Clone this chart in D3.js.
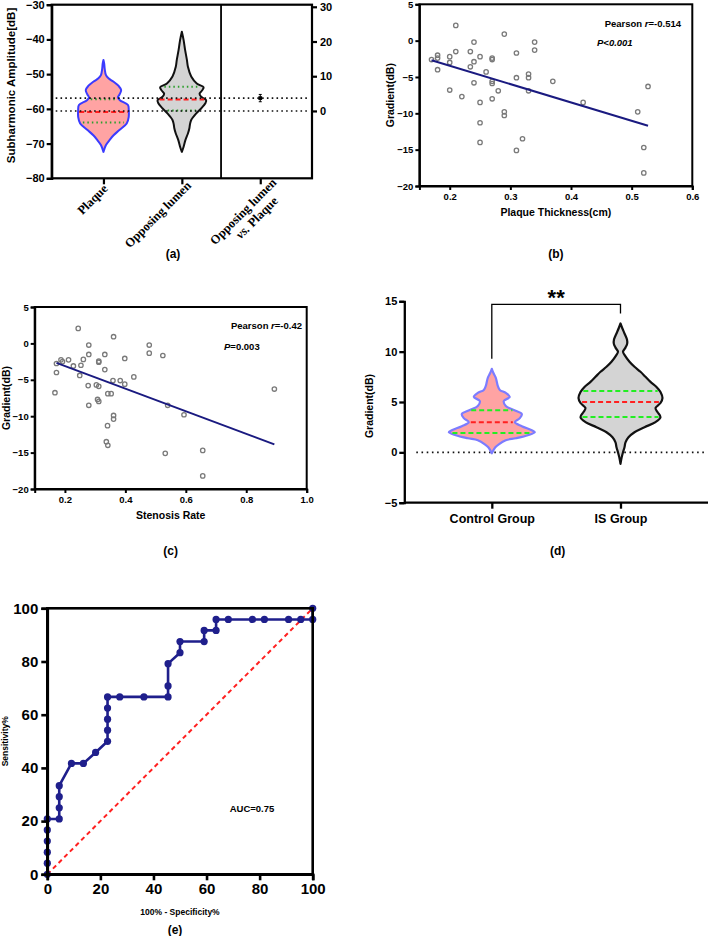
<!DOCTYPE html>
<html><head><meta charset="utf-8">
<script src="https://cdn.jsdelivr.net/npm/d3@7"></script>
<style>
body{margin:0;background:#fff;}
svg text{font-family:Arial,"Liberation Sans",sans-serif;font-weight:bold;fill:#000;}
</style></head><body>
<svg id="fig" width="709" height="936"></svg>
<script>
// ================= DATA =================
// Panel (a)
const aCategories = ["Plaque", "Opposing lumen", "Opposing lumen vs. Plaque"];
const aLeftTicks = [-80, -70, -60, -50, -40, -30];
const aRightTicks = [0, 10, 20, 30];
const plaqueV = [-45.9,-47,-48.5,-50.3,-51.2,-52.2,-53.4,-54.6,-55.8,-56.7,-57.5,-58.9,-60.4,-62.3,-64.2,-66.1,-67.6,-69,-70.4,-71.5,-72.4];
const plaqueD = [0,0.03,0.05,0.1,0.2,0.4,0.6,0.7,0.64,0.57,0.65,0.97,1.0,1.0,0.92,0.63,0.4,0.24,0.1,0.04,0];
const lumenV = [-37.8,-40.2,-43.1,-45.9,-47.9,-50.7,-52.7,-53.8,-54.8,-55.6,-56.5,-57.5,-58.4,-59.9,-61.3,-63.2,-64.5,-65.5,-67.1,-69,-70.9,-72.4];
const lumenD = [0,0.07,0.13,0.2,0.24,0.37,0.59,0.86,0.79,0.7,0.76,0.96,0.93,0.76,0.57,0.37,0.32,0.3,0.24,0.14,0.07,0];
const plaqueMedian = -60.9, plaqueQuart = [-57.2, -63.9];
const lumenMedian = -57.3, lumenQuart = [-53.6, -60.5];
const plaqueMean = -60.6, lumenMean = -56.9;
const diffMean = 3.7, diffErr = 1.05;

// Panel (b)
const bX = [0.17,0.18,0.18,0.18,0.21,0.2,0.2,0.2,0.21,0.22,0.234,0.234,0.24,0.24,0.24,0.25,0.25,0.25,0.25,0.26,0.27,0.27,0.27,0.27,0.27,0.28,0.29,0.29,0.29,0.31,0.31,0.31,0.32,0.33,0.33,0.33,0.34,0.34,0.37,0.42,0.51,0.52,0.52,0.527];
const bY = [-2.6,-2.0,-2.4,-4.0,2.1,-2.2,-3.0,-6.8,-1.5,-7.7,-1.5,-3.6,-0.2,-2.9,-5.8,-2.2,-8.5,-11.3,-14.0,-4.3,-2.4,-2.6,-5.6,-5.9,-8.0,-6.9,0.9,-9.8,-10.3,-1.7,-5.1,-15.1,-13.5,-4.6,-5.1,-6.9,-0.2,-1.3,-5.6,-8.5,-9.8,-14.7,-18.2,-6.3];
const bFitX = [0.17, 0.527], bFitY = [-2.7, -11.7];
const bXTicks = [0.2, 0.3, 0.4, 0.5, 0.6];
const gradTicks = [-20, -15, -10, -5, 0, 5];

// Panel (c)
const cX = [0.244,0.361,0.279,0.479,0.479,0.524,0.332,0.279,0.398,0.212,0.261,0.187,0.192,0.172,0.172,0.167,0.228,0.253,0.312,0.312,0.332,0.249,0.428,0.359,0.383,0.398,0.277,0.304,0.312,0.342,0.353,0.308,0.312,0.279,0.54,0.594,0.361,0.361,0.341,0.337,0.342,0.893,0.532,0.656,0.656];
const cY = [2.06,0.92,-0.23,-0.23,-1.34,-1.66,-1.52,-1.52,-2.07,-2.26,-2.2,-2.26,-2.5,-2.76,-4.0,-6.77,-3.1,-3.0,-2.44,-2.58,-3.6,-4.4,-4.6,-5.1,-5.1,-5.6,-5.8,-5.7,-5.9,-6.9,-6.9,-7.7,-7.97,-8.5,-8.5,-9.8,-9.9,-10.4,-11.3,-13.5,-14.0,-6.27,-15.1,-14.7,-18.2];
const cFitX = [0.172, 0.893], cFitY = [-2.67, -13.87];
const cXTicks = [0.2, 0.4, 0.6, 0.8, 1.0];

// Panel (d)
const dCategories = ["Control Group", "IS Group"];
const dTicks = [-5, 0, 5, 10, 15];
const ctrlV = [8.3,7.9,7.4,7.0,6.6,6.2,5.9,5.5,5.1,4.6,4.2,3.8,3.4,3.0,2.6,2.2,2.0,1.7,1.4,1.2,0.8,0.5,-0.1];
const ctrlD = [0,1.5,4,5,6,8,14,18,12,14,22,30,28,23,30,40,43,36,24,14,7,3.5,0];
const isV = [12.8,12.4,11.8,11.2,10.8,10.4,10.0,9.6,9.0,8.5,8.0,7.5,7.0,6.5,6.0,5.4,4.9,4.4,4.0,3.5,3.0,2.5,2.0,1.5,1.0,0.5,0,-0.5,-1.15];
const isD = [0,1.5,4,6.5,6.7,5,2.5,4.5,9,14,20,25,30,36,40,42,40,35,37,40,35,24,14,8,5,4,2.5,1.2,0];
const ctrlMedian = 3.0, ctrlQuart = [4.17, 1.93];
const isMedian = 5.0, isQuart = [6.1, 3.5];
const bracketTop = 14.7, bracketLeftEnd = 9.3, bracketRightEnd = 13.8;

// Panel (e)
const rocX = [0,0,0,0,0,0,4.5,4.5,4.5,4.5,9.1,13.6,18.2,22.7,22.7,22.7,22.7,22.7,27.3,36.4,45.5,45.5,45.5,50,50,59.1,59.1,63.6,63.6,68.2,77.3,81.8,90.9,95.5,100,100];
const rocY = [0,4.2,8.3,12.5,16.7,20.8,20.8,25,29.2,33.3,41.7,41.7,45.8,50,54.2,58.3,62.5,66.7,66.7,66.7,66.7,70.8,79.2,83.3,87.5,87.5,91.7,91.7,95.8,95.8,95.8,95.8,95.8,95.8,95.8,100];
const eTicks = [0, 20, 40, 60, 80, 100];

// ================= DRAWING =================
const svg = d3.select("#fig");

function styleAxis(g, w, fs) {
  g.selectAll("path.domain").attr("stroke", "#000").attr("stroke-width", w);
  g.selectAll(".tick line").attr("stroke", "#000").attr("stroke-width", w);
  g.selectAll(".tick text").attr("font-size", fs).attr("font-weight", "bold")
    .attr("font-family", "Arial, 'Liberation Sans', sans-serif").attr("fill", "#000");
}
function halfAt(V, D, v) {
  for (let i = 0; i < V.length - 1; i++) {
    const a = V[i], b = V[i + 1];
    if ((v <= a && v >= b) || (v >= a && v <= b)) {
      const t = (v - a) / (b - a);
      return D[i] + t * (D[i + 1] - D[i]);
    }
  }
  return 0;
}
function violin(g, V, D, cx, y, wScale, fill, stroke, sw) {
  const pts = V.map((v, i) => ({ v, d: D[i] }));
  const area = d3.area().y(p => y(p.v)).x0(p => cx - wScale(p.d)).x1(p => cx + wScale(p.d))
    .curve(d3.curveCatmullRom.alpha(0.5));
  g.append("path").attr("d", area(pts)).attr("fill", fill).attr("stroke", stroke)
    .attr("stroke-width", sw).attr("stroke-linejoin", "round");
}
function hline(g, V, D, cx, y, wScale, val, color, dash, sw, inset) {
  const hw = wScale(halfAt(V, D, val)) - (inset || 0);
  g.append("line").attr("x1", cx - hw).attr("x2", cx + hw).attr("y1", y(val)).attr("y2", y(val))
    .attr("stroke", color).attr("stroke-width", sw).attr("stroke-dasharray", dash);
}

// ---------- Panel (a) ----------
(function () {
  const L = 51.7, R = 312, T = 4.7, B = 178.3;
  const y = d3.scaleLinear().domain([-80, -30]).range([B, T]);
  const yR = d3.scaleLinear().domain([-80 - plaqueMean, -30 - plaqueMean]).range([B, T]);
  const x = d3.scalePoint().domain(aCategories).range([L, R]).padding(0.66);
  const w = d3.scaleLinear().domain([0, 1]).range([0, 25.3]);
  const g = svg.append("g");

  violin(g, plaqueV, plaqueD, x(aCategories[0]), y, w, "#FFA3A3", "#3B3BFF", 2);
  violin(g, lumenV, lumenD, x(aCategories[1]), y, w, "#D4D4D4", "#111", 2);
  hline(g, plaqueV, plaqueD, x(aCategories[0]), y, w, plaqueMedian, "#FF2020", "5,3", 2, 1);
  plaqueQuart.forEach(q => hline(g, plaqueV, plaqueD, x(aCategories[0]), y, w, q, "#2E9E2E", "1.5,3", 2, 3));
  hline(g, lumenV, lumenD, x(aCategories[1]), y, w, lumenMedian, "#FF2020", "5,3", 2, 1);
  lumenQuart.forEach(q => hline(g, lumenV, lumenD, x(aCategories[1]), y, w, q, "#2E9E2E", "1.5,3", 2, 3));

  [lumenMean, plaqueMean].forEach(m => {
    g.append("line").attr("x1", L + 4).attr("x2", R - 3).attr("y1", y(m)).attr("y2", y(m))
      .attr("stroke", "#111").attr("stroke-width", 1.6).attr("stroke-dasharray", "1.6,3.2");
  });
  // difference point with error bar (right axis)
  const px = x(aCategories[2]);
  g.append("line").attr("x1", px).attr("x2", px).attr("y1", yR(diffMean + diffErr)).attr("y2", yR(diffMean - diffErr))
    .attr("stroke", "#000").attr("stroke-width", 1);
  [diffMean + diffErr, diffMean - diffErr].forEach(v => g.append("line").attr("x1", px - 1.5).attr("x2", px + 1.5)
    .attr("y1", yR(v)).attr("y2", yR(v)).attr("stroke", "#000").attr("stroke-width", 1));
  g.append("path").attr("d", d3.symbol(d3.symbolSquare, 14)()).attr("transform", `translate(${px},${yR(diffMean)})`).attr("fill", "#000");

  // frame
  g.append("rect").attr("x", L).attr("y", T).attr("width", R - L).attr("height", B - T)
    .attr("fill", "none").attr("stroke", "#000").attr("stroke-width", 2.2);
  const divX = (x(aCategories[1]) + x(aCategories[2])) / 2;
  g.append("line").attr("x1", divX).attr("x2", divX).attr("y1", T).attr("y2", B).attr("stroke", "#000").attr("stroke-width", 1.8);

  const ga = g.append("g").attr("transform", `translate(${L},0)`).call(d3.axisLeft(y).tickValues(aLeftTicks).tickSize(5).tickPadding(2));
  styleAxis(ga, 2.2, 11);
  const gr = g.append("g").attr("transform", `translate(${R},0)`).call(d3.axisRight(yR).tickValues(aRightTicks).tickSize(5).tickPadding(3));
  gr.select("path.domain").remove();
  styleAxis(gr, 2.2, 11);
  const gx = g.append("g").attr("transform", `translate(0,${B})`).call(d3.axisBottom(x).tickSize(6).tickFormat(""));
  gx.select("path.domain").remove();
  styleAxis(gx, 2.2, 11);

  const lab = g.append("g").attr("font-size", 12.5);
  const lx0 = x(aCategories[0]), lx1 = x(aCategories[1]), lx2 = x(aCategories[2]);
  lab.append("text").attr("transform", `translate(${lx0 + 5},${B + 11}) rotate(-45)`).attr("text-anchor", "end")
    .style("font-family", "'Liberation Serif','Times New Roman',serif").text("Plaque");
  lab.append("text").attr("transform", `translate(${lx1 + 10},${B + 8}) rotate(-45)`).attr("text-anchor", "end")
    .style("font-family", "'Liberation Serif','Times New Roman',serif").text("Opposing lumen");
  const t3 = lab.append("text").attr("transform", `translate(${lx2 + 17},${B + 5}) rotate(-45)`).attr("text-anchor", "end")
    .style("font-family", "'Liberation Serif','Times New Roman',serif");
  t3.append("tspan").attr("x", 0).attr("dy", 0).text("Opposing lumen");
  const ts = t3.append("tspan").attr("x", -12).attr("dy", 14);
  ts.append("tspan").attr("font-style", "italic").text("vs.");
  ts.append("tspan").text(" Plaque");

  g.append("text").attr("transform", `translate(15,${(T + B) / 2 - 6}) rotate(-90)`).attr("text-anchor", "middle")
    .attr("font-size", 11.5).text("Subharmonic Amplitude[dB]");
  g.append("text").attr("x", 173).attr("y", 258).attr("text-anchor", "middle").attr("font-size", 12).text("(a)");
})();

// ---------- Scatter panels ----------
function scatter(opt) {
  const { L, R, T, B, xd, yd, X, Y, fx, fy, xt, xlab, rlab, plab, tag, tagY, txtX, txtY1, txtY2 } = opt;
  const x = d3.scaleLinear().domain(xd).range([L, R]);
  const y = d3.scaleLinear().domain(yd).range([B, T]);
  const g = svg.append("g");
  g.selectAll("circle").data(X.map((v, i) => [v, Y[i]])).enter().append("circle")
    .attr("cx", d => x(d[0])).attr("cy", d => y(d[1])).attr("r", 2.2)
    .attr("fill", "none").attr("stroke", "#7a7a7a").attr("stroke-width", 1.3);
  g.append("line").attr("x1", x(fx[0])).attr("x2", x(fx[1])).attr("y1", y(fy[0])).attr("y2", y(fy[1]))
    .attr("stroke", "#1A1A80").attr("stroke-width", 2);
  g.append("rect").attr("x", L).attr("y", T).attr("width", R - L).attr("height", B - T)
    .attr("fill", "none").attr("stroke", "#000").attr("stroke-width", 2);
  const gy = g.append("g").attr("transform", `translate(${L},0)`).call(d3.axisLeft(y).tickValues(gradTicks).tickSize(4).tickPadding(2).tickFormat(d3.format("d")));
  styleAxis(gy, 2, 9.5);
  const gx = g.append("g").attr("transform", `translate(0,${B})`).call(d3.axisBottom(x).tickValues(xt).tickSize(4).tickPadding(3).tickFormat(d3.format(".1f")));
  styleAxis(gx, 2, 9.5);
  g.append("text").attr("x", (L + R) / 2).attr("y", B + 30).attr("text-anchor", "middle").attr("font-size", 10.5).text(xlab);
  g.append("text").attr("transform", `translate(${L - 25},${(T + B) / 2}) rotate(-90)`).attr("text-anchor", "middle").attr("font-size", 10.5).text("Gradient(dB)");
  const t1 = g.append("text").attr("x", txtX).attr("y", txtY1).attr("text-anchor", "end").attr("font-size", 9.5);
  t1.append("tspan").text("Pearson ");
  t1.append("tspan").attr("font-style", "italic").text("r");
  t1.append("tspan").text("=" + rlab);
  const t2 = g.append("text").attr("x", opt.pX).attr("y", txtY2).attr("font-size", 9.5);
  if (plab.italic) { t2.attr("font-style", "italic").text(plab.text); }
  else { t2.append("tspan").attr("font-style", "italic").text("P"); t2.append("tspan").text(plab.text); }
  g.append("text").attr("x", (L + R) / 2).attr("y", tagY).attr("text-anchor", "middle").attr("font-size", 12).text(tag);
}
scatter({ L: 419.4, R: 692.3, T: 4.3, B: 186, xd: [0.15, 0.6], yd: [-20, 5], X: bX, Y: bY, fx: bFitX, fy: bFitY,
  xt: bXTicks, xlab: "Plaque Thickness(cm)", rlab: "-0.514", plab: { italic: true, text: "P<0.001" },
  tag: "(b)", tagY: 258, txtX: 681, txtY1: 27, txtY2: 46, pX: 597 });
scatter({ L: 34.7, R: 306.7, T: 307, B: 489, xd: [0.1, 1.0], yd: [-20, 5], X: cX, Y: cY, fx: cFitX, fy: cFitY,
  xt: cXTicks, xlab: "Stenosis Rate", rlab: "-0.42", plab: { italic: false, text: "=0.003" },
  tag: "(c)", tagY: 555, txtX: 302, txtY1: 329, txtY2: 350, pX: 224 });

// ---------- Panel (d) ----------
(function () {
  const L = 404.3, R = 708, T = 301.3, B = 502.7;
  const y = d3.scaleLinear().domain([-5, 15]).range([B, T]);
  const x = d3.scalePoint().domain(dCategories).range([L, R]).padding(0.68);
  const w = d3.scaleLinear().domain([0, 1]).range([0, 1]);
  const g = svg.append("g");
  const c0 = x(dCategories[0]), c1 = x(dCategories[1]);
  g.append("line").attr("x1", L + 12).attr("x2", R - 3).attr("y1", y(0)).attr("y2", y(0))
    .attr("stroke", "#111").attr("stroke-width", 1.6).attr("stroke-dasharray", "1.6,3.6");
  violin(g, ctrlV, ctrlD, c0, y, w, "#FFA3A3", "#7C7CFF", 2.2);
  violin(g, isV, isD, c1, y, w, "#D4D4D4", "#111", 2.2);
  hline(g, ctrlV, ctrlD, c0, y, w, ctrlMedian, "#FF2020", "5,3", 2, 2);
  ctrlQuart.forEach(q => hline(g, ctrlV, ctrlD, c0, y, w, q, "#22EE22", "5,3", 2, 2));
  hline(g, isV, isD, c1, y, w, isMedian, "#FF2020", "5,3", 2, 2);
  isQuart.forEach(q => hline(g, isV, isD, c1, y, w, q, "#22EE22", "5,3", 2, 2));
  // significance bracket
  g.append("path").attr("d", `M${c0},${y(bracketLeftEnd)}V${y(bracketTop)}H${c1}V${y(bracketRightEnd)}`)
    .attr("fill", "none").attr("stroke", "#000").attr("stroke-width", 1.3);
  g.append("text").attr("x", (c0 + c1) / 2).attr("y", y(bracketTop) + 0.5).attr("text-anchor", "middle").attr("font-size", 22).text("**");
  const gy = g.append("g").attr("transform", `translate(${L},0)`).call(d3.axisLeft(y).tickValues(dTicks).tickSize(5).tickPadding(2));
  styleAxis(gy, 2.3, 11);
  const gx = g.append("g").attr("transform", `translate(0,${B})`).call(d3.axisBottom(x).tickSize(6).tickPadding(5));
  gx.select("path.domain").attr("d", `M${L},0H${R}`);
  styleAxis(gx, 2.3, 12.5);
  g.append("text").attr("transform", `translate(${L - 31},${(T + B) / 2 + 4}) rotate(-90)`).attr("text-anchor", "middle").attr("font-size", 10.5).text("Gradient(dB)");
  g.append("text").attr("x", 557.7).attr("y", 555).attr("text-anchor", "middle").attr("font-size", 12).text("(d)");
})();

// ---------- Panel (e) ----------
(function () {
  const L = 47.3, R = 312.7, T = 608.3, B = 874.3;
  const x = d3.scaleLinear().domain([0, 100]).range([L, R]);
  const y = d3.scaleLinear().domain([0, 100]).range([B, T]);
  const g = svg.append("g");
  g.append("line").attr("x1", x(0)).attr("y1", y(0)).attr("x2", x(100)).attr("y2", y(100))
    .attr("stroke", "#FF2020").attr("stroke-width", 2).attr("stroke-dasharray", "4.5,3.5");
  const pts = rocX.map((v, i) => [v, rocY[i]]);
  g.append("path").attr("d", d3.line().x(d => x(d[0])).y(d => y(d[1]))(pts))
    .attr("fill", "none").attr("stroke", "#1F1F8C").attr("stroke-width", 2.6).attr("stroke-linejoin", "round");
  g.selectAll("circle").data(pts).enter().append("circle").attr("cx", d => x(d[0])).attr("cy", d => y(d[1]))
    .attr("r", 3.6).attr("fill", "#1F1F8C");
  g.append("rect").attr("x", L).attr("y", T).attr("width", R - L).attr("height", B - T)
    .attr("fill", "none").attr("stroke", "#000").attr("stroke-width", 2.6);
  const gy = g.append("g").attr("transform", `translate(${L},0)`).call(d3.axisLeft(y).tickValues(eTicks).tickSize(6).tickPadding(3));
  styleAxis(gy, 2.6, 15);
  const gx = g.append("g").attr("transform", `translate(0,${B})`).call(d3.axisBottom(x).tickValues(eTicks).tickSize(6).tickPadding(3));
  styleAxis(gx, 2.6, 15);
  g.append("text").attr("x", (L + R) / 2).attr("y", 915).attr("text-anchor", "middle").attr("font-size", 8.5).text("100% - Specificity%");
  g.append("text").attr("transform", `translate(8,${(T + B) / 2}) rotate(-90)`).attr("text-anchor", "middle").attr("font-size", 8.5).text("Sensitivity%");
  g.append("text").attr("x", 252).attr("y", 812).attr("text-anchor", "middle").attr("font-size", 9.5).text("AUC=0.75");
  g.append("text").attr("x", 175).attr("y", 934).attr("text-anchor", "middle").attr("font-size", 12).text("(e)");
})();
</script></body></html>
